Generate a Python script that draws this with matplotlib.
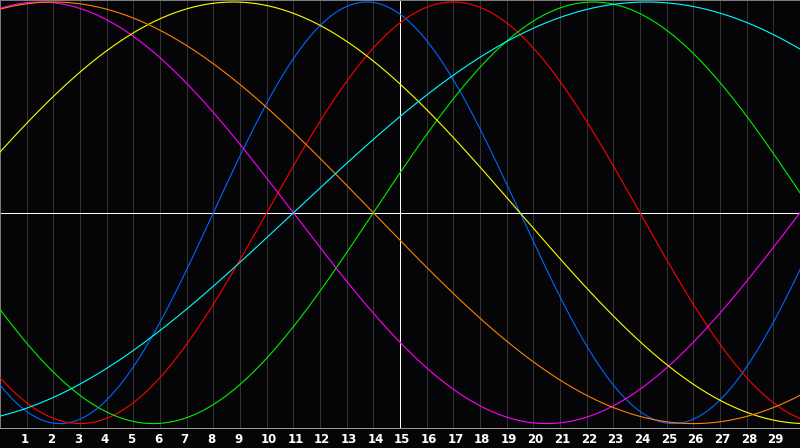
import numpy as np
import matplotlib
matplotlib.use("Agg")
import matplotlib.pyplot as plt
import matplotlib.transforms as mtransforms

# biorhythm data
days_alive = 27178          # days since birth at the left edge (day 0)
cycle_names = ["physical", "emotional", "intellectual", "intuitive",
               "aesthetic", "awareness", "spiritual"]
cycle_days = [23, 28, 33, 38, 43, 48, 53]
cycle_colors = ["#0066ff", "#ff0000", "#00ee00", "#ff00ff",
                "#ffff00", "#ff8000", "#00ffff"]
day_labels = [str(d) for d in range(1, 30)]
n_days = 30
today = 15

bg = "#050508"
px = 72 / 100  # one pixel in points

fig = plt.figure(figsize=(8, 4.48), dpi=100, facecolor=bg)
ax = fig.add_axes([0, 20 / 448, 1, 428 / 448])
ax.set_facecolor(bg)

# grid lines for each day
for d in range(1, n_days):
    ax.axvline(d, color="#333333", lw=px, zorder=1, antialiased=False)
ax.axvline(today, color="white", lw=px, zorder=2, antialiased=False)
ax.axhline(0, color="white", lw=px, zorder=2, antialiased=False)

t = np.linspace(0, n_days, 1600)
for name, p, c in zip(cycle_names, cycle_days, cycle_colors):
    ax.plot(t, np.sin(2 * np.pi * (days_alive + t) / p), color=c,
            lw=0.8, zorder=3, label=name)

ax.set_xlim(0, n_days)
ax.set_ylim(-1.0209, 1.0095)
ax.set_xticks([])
ax.set_yticks([])
for s in ["top", "left"]:
    ax.spines[s].set_color("#7a7a7a")
    ax.spines[s].set_linewidth(px)
ax.spines["right"].set_visible(False)
ax.spines["bottom"].set_color("#9a9a9a")
ax.spines["bottom"].set_linewidth(px)

# day labels under the axis
offset = mtransforms.ScaledTranslation(-6 / 100, 0, fig.dpi_scale_trans)
trans = mtransforms.blended_transform_factory(ax.transData, fig.transFigure) + offset
for i, lab in enumerate(day_labels):
    ax.text(i + 1, 9 / 448, lab, transform=trans, color="white",
            fontsize=8.5, fontweight="bold", ha="left", va="center",
            family="DejaVu Sans")

fig.savefig("out.png", dpi=100, facecolor=bg)
